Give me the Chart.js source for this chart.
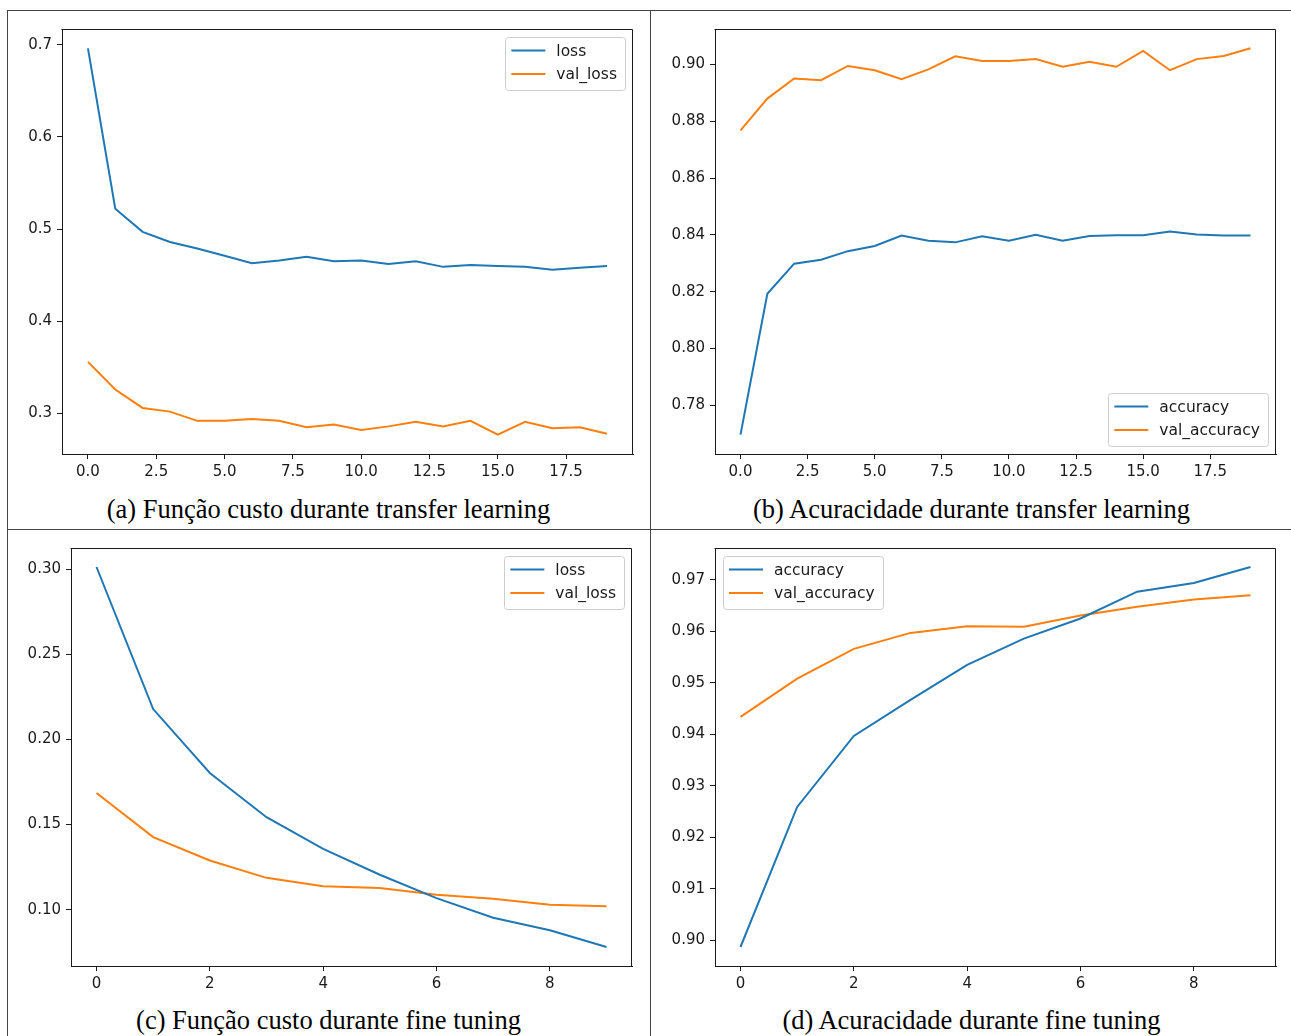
<!DOCTYPE html>
<html>
<head>
<meta charset="utf-8">
<script src="https://cdn.jsdelivr.net/npm/chart.js@4.4.1/dist/chart.umd.min.js"></script>
<style>
  body { margin: 0; background: #fff; }
  #page { position: relative; width: 1291px; height: 1036px; overflow: hidden; background: #fff; }
  .rule { position: absolute; background: #444; }
  .panel { position: absolute; }
  .caption {
    position: absolute; width: 643px; text-align: center;
    font-family: "Liberation Serif", "Times New Roman", serif;
    font-size: 26.5px; line-height: 30px; color: #000; white-space: nowrap;
  }
</style>
</head>
<body>
<div id="page">
  <div class="rule" style="left:7px;top:10px;width:1284px;height:1px"></div>
  <div class="rule" style="left:7px;top:529px;width:1284px;height:1px"></div>
  <div class="rule" style="left:7px;top:10px;width:1px;height:1026px"></div>
  <div class="rule" style="left:650px;top:10px;width:1px;height:1026px"></div>

  <div class="caption" style="left:7px;top:494px">(a) Função custo durante transfer learning</div>
  <div class="caption" style="left:650px;top:494px">(b) Acuracidade durante transfer learning</div>
  <div class="caption" style="left:7px;top:1005px">(c) Função custo durante fine tuning</div>
  <div class="caption" style="left:650px;top:1005px">(d) Acuracidade durante fine tuning</div>
</div>

<script>
// epochs
const epochsTransfer = [0, 1, 2, 3, 4, 5, 6, 7, 8, 9, 10, 11, 12, 13, 14, 15, 16, 17, 18, 19];
const epochsFine = [0, 1, 2, 3, 4, 5, 6, 7, 8, 9];

// (a) loss during transfer learning
const lossTransfer = [0.696, 0.522, 0.497, 0.486, 0.479, 0.471, 0.463, 0.466, 0.470, 0.465,
                      0.466, 0.462, 0.465, 0.459, 0.461, 0.460, 0.459, 0.456, 0.458, 0.460];
const valLossTransfer = [0.356, 0.326, 0.306, 0.302, 0.292, 0.292, 0.294, 0.292, 0.285, 0.288,
                         0.282, 0.286, 0.291, 0.286, 0.292, 0.277, 0.291, 0.284, 0.285, 0.278];

// (b) accuracy during transfer learning
const accTransfer = [0.7697, 0.8193, 0.8299, 0.8313, 0.8343, 0.8361, 0.8398, 0.8380, 0.8374, 0.8395,
                     0.8380, 0.8401, 0.8380, 0.8396, 0.8399, 0.8399, 0.8412, 0.8402, 0.8398, 0.8398];
const valAccTransfer = [0.8768, 0.8880, 0.8951, 0.8945, 0.8995, 0.8980, 0.8948, 0.8983, 0.9029, 0.9012,
                        0.9012, 0.9019, 0.8992, 0.9010, 0.8992, 0.9048, 0.8980, 0.9019, 0.9030, 0.9057];

// (c) loss during fine tuning
const lossFine = [0.3012, 0.2178, 0.1803, 0.1543, 0.1357, 0.1205, 0.1068, 0.0953, 0.0879, 0.0781];
const valLossFine = [0.1685, 0.1426, 0.1289, 0.1187, 0.1137, 0.1127, 0.1088, 0.1064, 0.1029, 0.1020];

// (d) accuracy during fine tuning
const accFine = [0.8987, 0.9259, 0.9397, 0.9467, 0.9535, 0.9586, 0.9625, 0.9677, 0.9694, 0.9725];
const valAccFine = [0.9434, 0.9508, 0.9566, 0.9597, 0.9610, 0.9609, 0.9631, 0.9648, 0.9662, 0.9670];

// tick labels
const xTicksTransfer = [0, 2.5, 5, 7.5, 10, 12.5, 15, 17.5];
const xTicksFine = [0, 2, 4, 6, 8];
const yTicksLossTransfer = [0.3, 0.4, 0.5, 0.6, 0.7];
const yTicksAccTransfer = [0.78, 0.80, 0.82, 0.84, 0.86, 0.88, 0.90];
const yTicksLossFine = [0.10, 0.15, 0.20, 0.25, 0.30];
const yTicksAccFine = [0.90, 0.91, 0.92, 0.93, 0.94, 0.95, 0.96, 0.97];

const BLUE = "#1f77b4";
const ORANGE = "#ff7f0e";
const INK = "#1a1a1a";

// room around the plot box inside each canvas
const AXIS_W = 55;
const AXIS_H = 46;
const PAD_T = 15;
const PAD_R = 12;

// matplotlib-like 5% margins
function padRange(arrays) {
  const all = arrays.flat();
  const lo = Math.min(...all), hi = Math.max(...all);
  const m = (hi - lo) * 0.05;
  return [lo - m, hi + m];
}

// top + right spines
const framePlugin = {
  id: "frame",
  afterDraw(chart) {
    const a = chart.chartArea, ctx = chart.ctx;
    ctx.save();
    ctx.strokeStyle = INK;
    ctx.lineWidth = 1;
    ctx.beginPath();
    ctx.moveTo(Math.round(a.left) - 0.5, Math.round(a.top) + 0.5);
    ctx.lineTo(Math.round(a.right) - 0.5, Math.round(a.top) + 0.5);
    ctx.lineTo(Math.round(a.right) - 0.5, Math.round(a.bottom));
    ctx.stroke();
    ctx.restore();
  },
};

// legend box drawn inside the axes, like matplotlib
function legendPlugin(loc) {
  return {
    id: "mplLegend",
    afterDraw(chart) {
      const ctx = chart.ctx, a = chart.chartArea;
      const items = chart.data.datasets;
      ctx.save();
      ctx.font = '15.5px "DejaVu Sans"';
      const textW = Math.max(...items.map((d) => ctx.measureText(d.label).width));
      const w = 6 + 34 + 11 + textW + 8;
      const h = 53;
      const x = loc.includes("right") ? a.right - 8 - w : a.left + 8;
      const y = loc.startsWith("upper") ? a.top + 8 : a.bottom - 8 - h;

      ctx.beginPath();
      ctx.roundRect(Math.round(x) + 0.5, Math.round(y) + 0.5, Math.round(w), h, 3);
      ctx.fillStyle = "rgba(255,255,255,0.8)";
      ctx.fill();
      ctx.strokeStyle = "#cccccc";
      ctx.lineWidth = 1;
      ctx.stroke();

      items.forEach((d, i) => {
        const cy = y + 13.5 + i * 23.5;
        ctx.beginPath();
        ctx.moveTo(x + 6, cy);
        ctx.lineTo(x + 40, cy);
        ctx.strokeStyle = d.borderColor;
        ctx.lineWidth = 2;
        ctx.stroke();
        ctx.fillStyle = INK;
        ctx.textBaseline = "middle";
        ctx.textAlign = "left";
        ctx.fillText(d.label, x + 51, cy + 1);
      });
      ctx.restore();
    },
  };
}

function makePanel(p) {
  const page = document.getElementById("page");
  const left = p.plot.l - AXIS_W;
  const top = p.plot.t - PAD_T;
  const width = p.plot.r + PAD_R - left;
  const height = p.plot.b + AXIS_H - top;

  const wrap = document.createElement("div");
  wrap.className = "panel";
  wrap.style.left = left + "px";
  wrap.style.top = top + "px";
  wrap.style.width = width + "px";
  wrap.style.height = height + "px";
  const canvas = document.createElement("canvas");
  canvas.width = width;
  canvas.height = height;
  canvas.style.width = width + "px";
  canvas.style.height = height + "px";
  wrap.appendChild(canvas);
  page.appendChild(wrap);

  const [xMin, xMax] = padRange([p.epochs]);
  const [yMin, yMax] = padRange(p.series.map((s) => s.values));
  const tickFont = { family: "DejaVu Sans", size: 15 };

  new Chart(canvas, {
    type: "line",
    data: {
      datasets: p.series.map((s) => ({
        label: s.label,
        data: p.epochs.map((e, i) => ({ x: e, y: s.values[i] })),
        borderColor: s.color,
        backgroundColor: s.color,
        borderWidth: 2,
        pointRadius: 0,
        tension: 0,
        fill: false,
      })),
    },
    options: {
      responsive: false,
      animation: false,
      devicePixelRatio: 1,
      layout: { padding: { left: 0, top: PAD_T, right: PAD_R, bottom: 0 } },
      plugins: { legend: { display: false }, tooltip: { enabled: false } },
      scales: {
        x: {
          type: "linear",
          min: xMin,
          max: xMax,
          afterBuildTicks: (s) => { s.ticks = p.xTicks.map((v) => ({ value: v })); },
          afterFit: (s) => { s.height = AXIS_H; },
          ticks: {
            callback: (v) => v.toFixed(p.xDec),
            font: tickFont, color: INK, padding: 4,
            maxRotation: 0, autoSkip: false,
          },
          grid: { drawOnChartArea: false, drawTicks: true, tickLength: 5, tickColor: INK },
          border: { display: true, color: INK, width: 1 },
        },
        y: {
          type: "linear",
          min: yMin,
          max: yMax,
          afterBuildTicks: (s) => { s.ticks = p.yTicks.map((v) => ({ value: v })); },
          afterFit: (s) => { s.width = AXIS_W; },
          ticks: {
            callback: (v) => v.toFixed(p.yDec),
            font: tickFont, color: INK, padding: 5,
          },
          grid: { drawOnChartArea: false, drawTicks: true, tickLength: 5, tickColor: INK },
          border: { display: true, color: INK, width: 1 },
        },
      },
    },
    plugins: [framePlugin, legendPlugin(p.legendLoc)],
  });
}

makePanel({
  plot: { l: 62, t: 29, r: 633, b: 454 },
  epochs: epochsTransfer, xTicks: xTicksTransfer, xDec: 1,
  yTicks: yTicksLossTransfer, yDec: 1,
  legendLoc: "upper right",
  series: [
    { label: "loss", values: lossTransfer, color: BLUE },
    { label: "val_loss", values: valLossTransfer, color: ORANGE },
  ],
});

makePanel({
  plot: { l: 715, t: 29, r: 1276, b: 454 },
  epochs: epochsTransfer, xTicks: xTicksTransfer, xDec: 1,
  yTicks: yTicksAccTransfer, yDec: 2,
  legendLoc: "lower right",
  series: [
    { label: "accuracy", values: accTransfer, color: BLUE },
    { label: "val_accuracy", values: valAccTransfer, color: ORANGE },
  ],
});

makePanel({
  plot: { l: 71, t: 548, r: 632, b: 966 },
  epochs: epochsFine, xTicks: xTicksFine, xDec: 0,
  yTicks: yTicksLossFine, yDec: 2,
  legendLoc: "upper right",
  series: [
    { label: "loss", values: lossFine, color: BLUE },
    { label: "val_loss", values: valLossFine, color: ORANGE },
  ],
});

makePanel({
  plot: { l: 715, t: 548, r: 1276, b: 966 },
  epochs: epochsFine, xTicks: xTicksFine, xDec: 0,
  yTicks: yTicksAccFine, yDec: 2,
  legendLoc: "upper left",
  series: [
    { label: "accuracy", values: accFine, color: BLUE },
    { label: "val_accuracy", values: valAccFine, color: ORANGE },
  ],
});
</script>
</body>
</html>
